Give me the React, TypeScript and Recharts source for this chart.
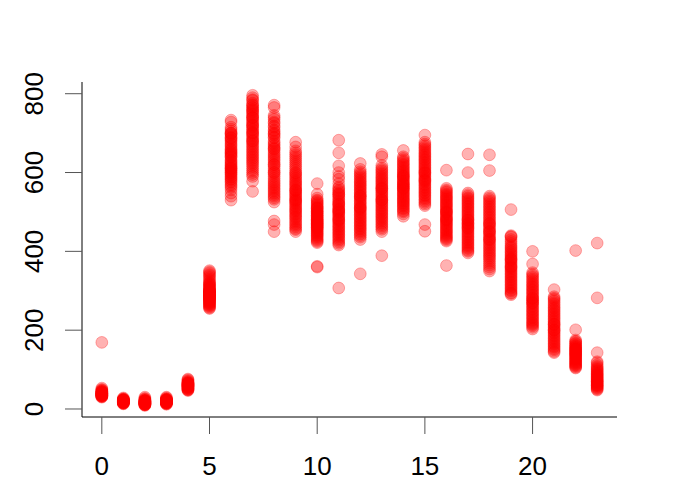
import { ScatterChart, Scatter, XAxis, YAxis } from 'recharts';

// counts per hour of day (0..23)
const h00 = [169, 53, 50, 48, 47, 45, 44, 43, 42, 41, 41, 40, 39, 39, 38, 38, 37, 36, 36, 35, 35, 34, 34, 33, 33, 32, 31, 30, 44, 39];
const h01 = [28, 26, 25, 24, 23, 22, 22, 21, 21, 20, 20, 19, 19, 18, 18, 17, 17, 16, 16, 15, 15, 14, 23, 24, 20, 19, 21, 18, 17, 13];
const h02 = [30, 27, 25, 24, 22, 21, 20, 19, 18, 18, 17, 16, 16, 15, 15, 14, 14, 13, 12, 12, 11, 11, 10, 20, 17, 19, 13, 15, 22, 9];
const h03 = [30, 28, 26, 25, 24, 23, 22, 21, 21, 20, 20, 19, 19, 18, 18, 17, 17, 16, 16, 15, 15, 14, 13, 22, 24, 20, 18, 19, 16, 12];
const h04 = [76, 74, 72, 70, 68, 67, 66, 65, 64, 63, 62, 61, 60, 60, 59, 58, 57, 56, 55, 54, 53, 52, 51, 50, 49, 48, 47, 65, 58, 62];
const h05 = [351, 345, 338, 330, 322, 318, 314, 310, 306, 303, 300, 298, 296, 294, 292, 290, 288, 286, 284, 282, 280, 278, 276, 273, 270, 267, 263, 259, 255, 300,
  348, 341, 334, 326, 320, 316, 312, 308, 304, 301, 299, 297, 295, 293, 291, 289, 287, 285, 283, 281, 279, 277, 274, 271, 268, 265, 261, 257];
const h06 = [733, 728, 715, 705, 698, 690, 682, 675, 668, 660, 652, 645, 638, 630, 624, 618, 612, 606, 600, 594, 588, 582, 575, 566, 556, 548, 540, 530, 700, 620, 610, 650,
  700, 695, 688, 680, 672, 665, 658, 648, 640, 632, 626, 615, 604, 596, 590, 584, 578, 570, 562, 610, 642, 686, 710, 655, 600];
const h07 = [796, 790, 783, 776, 770, 764, 758, 752, 745, 738, 730, 722, 715, 708, 700, 692, 684, 676, 668, 660, 652, 644, 636, 628, 620, 610, 600, 590, 578, 552, 760, 720, 680,
  785, 772, 766, 755, 748, 740, 733, 726, 718, 710, 703, 696, 688, 680, 672, 664, 656, 648, 640, 632, 624, 615, 605, 595, 740, 700];
const h08 = [771, 765, 745, 735, 725, 715, 705, 695, 688, 680, 672, 664, 655, 646, 638, 630, 620, 610, 600, 590, 580, 572, 564, 556, 548, 540, 532, 525, 477, 468, 450, 700, 560,
  740, 728, 718, 708, 698, 690, 676, 668, 660, 650, 642, 634, 625, 615, 605, 595, 585, 576, 568, 552, 544, 536, 660, 620, 600];
const h09 = [677, 665, 655, 645, 635, 625, 615, 605, 598, 590, 582, 575, 568, 560, 553, 546, 540, 533, 526, 520, 513, 506, 500, 493, 486, 478, 470, 462, 455, 450, 555, 530,
  650, 640, 630, 620, 610, 600, 594, 586, 578, 571, 564, 556, 549, 543, 536, 529, 523, 516, 509, 503, 496, 489, 482, 474, 466, 458];
const h10 = [572, 545, 535, 528, 522, 516, 510, 505, 500, 495, 490, 485, 480, 476, 472, 468, 464, 460, 455, 450, 445, 440, 434, 428, 422, 362, 360, 500, 480, 470,
  530, 525, 519, 513, 508, 502, 497, 492, 487, 482, 478, 474, 470, 466, 462, 457, 452, 447, 442, 437, 431, 425, 490, 510, 460];
const h11 = [682, 650, 617, 600, 590, 583, 572, 563, 555, 548, 540, 532, 525, 518, 510, 503, 496, 489, 482, 475, 468, 461, 454, 447, 440, 432, 424, 416, 307, 500, 520,
  560, 552, 544, 536, 528, 521, 514, 507, 499, 492, 485, 478, 471, 464, 457, 450, 443, 436, 428, 420, 545, 505, 480];
const h12 = [623, 608, 598, 590, 582, 575, 568, 561, 554, 547, 540, 533, 526, 519, 512, 505, 498, 491, 484, 477, 470, 463, 456, 448, 440, 430, 343, 540, 510,
  602, 594, 586, 578, 571, 564, 557, 550, 543, 536, 529, 522, 515, 508, 501, 494, 487, 480, 473, 466, 459, 452, 444, 436];
const h13 = [646, 640, 618, 608, 600, 592, 585, 578, 571, 564, 557, 550, 543, 536, 529, 522, 515, 508, 501, 494, 487, 480, 472, 464, 456, 450, 389, 560, 530,
  612, 604, 596, 588, 581, 574, 567, 560, 553, 546, 539, 532, 525, 518, 511, 504, 497, 490, 483, 476, 468, 460];
const h14 = [656, 640, 632, 625, 618, 611, 604, 598, 592, 586, 580, 574, 568, 562, 556, 550, 544, 538, 532, 526, 520, 514, 507, 500, 489, 590, 570, 560,
  636, 628, 621, 614, 607, 601, 595, 589, 583, 577, 571, 565, 559, 553, 547, 541, 535, 529, 523, 517, 510, 503, 495];
const h15 = [695, 677, 668, 660, 652, 645, 638, 631, 624, 617, 610, 603, 596, 589, 582, 575, 568, 561, 554, 547, 540, 532, 524, 516, 468, 451, 600, 580,
  672, 664, 656, 648, 641, 634, 627, 620, 613, 606, 599, 592, 585, 578, 571, 564, 557, 550, 543, 536, 528, 520];
const h16 = [606, 560, 553, 546, 540, 534, 528, 522, 516, 510, 504, 498, 492, 486, 480, 474, 468, 462, 456, 450, 444, 438, 432, 426, 364, 500, 480,
  556, 550, 543, 537, 531, 525, 519, 513, 507, 501, 495, 489, 483, 477, 471, 465, 459, 453, 447, 441, 435, 429];
const h17 = [647, 600, 548, 540, 533, 526, 519, 512, 505, 498, 491, 484, 477, 470, 463, 456, 449, 442, 435, 428, 421, 414, 407, 400, 396, 480, 460, 470,
  544, 536, 529, 522, 515, 508, 501, 494, 487, 480, 473, 466, 459, 452, 445, 438, 431, 424, 417, 410, 403];
const h18 = [645, 605, 540, 532, 524, 516, 508, 500, 492, 484, 476, 468, 460, 452, 444, 436, 428, 420, 412, 404, 396, 388, 380, 370, 360, 350, 470, 450, 430,
  536, 528, 520, 512, 504, 496, 488, 480, 472, 464, 456, 448, 440, 432, 424, 416, 408, 400, 392, 384, 375, 365, 355];
const h19 = [506, 440, 436, 425, 415, 408, 400, 393, 386, 379, 372, 365, 358, 351, 344, 337, 330, 323, 316, 309, 302, 295, 290, 380, 360,
  438, 430, 420, 411, 404, 397, 390, 383, 376, 369, 362, 355, 348, 341, 334, 327, 320, 313, 306, 299, 293];
const h20 = [400, 368, 346, 338, 330, 322, 315, 308, 301, 294, 287, 280, 273, 266, 259, 252, 245, 238, 231, 224, 217, 211, 203, 280, 270,
  342, 334, 326, 318, 311, 304, 297, 290, 283, 276, 269, 262, 255, 248, 241, 234, 227, 220, 214, 207];
const h21 = [303, 285, 278, 270, 262, 255, 248, 241, 234, 227, 220, 213, 206, 199, 192, 185, 178, 171, 164, 157, 150, 143, 200, 215,
  281, 274, 266, 258, 251, 244, 237, 230, 223, 216, 209, 202, 195, 188, 181, 174, 167, 160, 153, 146];
const h22 = [402, 201, 175, 170, 165, 160, 156, 152, 148, 144, 140, 136, 132, 128, 124, 120, 116, 112, 108, 104, 150, 140,
  172, 167, 162, 158, 154, 150, 146, 142, 138, 134, 130, 126, 122, 118, 114, 110, 106];
const h23 = [421, 282, 143, 120, 112, 105, 100, 95, 90, 86, 82, 78, 74, 70, 66, 62, 58, 54, 50, 48, 70, 60,
  117, 108, 102, 97, 92, 88, 84, 80, 76, 72, 68, 64, 60, 56, 52];

const hourly = [h00, h01, h02, h03, h04, h05, h06, h07, h08, h09, h10, h11, h12, h13, h14, h15, h16, h17, h18, h19, h20, h21, h22, h23];

const xTicks = [0, 5, 10, 15, 20];
const yTicks = [0, 200, 400, 600, 800];

const points = hourly.flatMap((counts, hour) => counts.map((count) => ({ hour, count })));

const FONT = '"Liberation Sans", Arial, Helvetica, sans-serif';

const Dot = (props: any) => (
  <circle
    cx={props.cx}
    cy={props.cy}
    r={5.9}
    fill="#ff0000"
    fillOpacity={0.3}
    stroke="#ff0000"
    strokeOpacity={0.3}
    strokeWidth={1}
  />
);

const YTick = (props: any) => {
  const { y, payload } = props;
  const x = 43;
  return (
    <text
      x={x}
      y={y}
      transform={`rotate(-90 ${x} ${y})`}
      textAnchor="middle"
      fontSize={26}
      fontFamily={FONT}
      fill="#000"
    >
      {payload.value}
    </text>
  );
};

export default function App() {
  return (
    <div style={{ position: 'absolute', left: 0, top: 0, background: '#fff' }}>
      <ScatterChart width={700} height={500} margin={{ top: 82, right: 83, bottom: 0, left: 0 }}>
        <XAxis
          type="number"
          dataKey="hour"
          domain={[-0.92, 23.92]}
          allowDataOverflow
          ticks={xTicks}
          interval={0}
          height={83}
          tickSize={17}
          tickMargin={23}
          axisLine={{ stroke: '#000' }}
          tickLine={{ stroke: '#555' }}
          tick={{ fontSize: 26, fontFamily: FONT, fill: '#000' }}
        />
        <YAxis
          type="number"
          dataKey="count"
          domain={[-20.3, 829.7]}
          allowDataOverflow
          ticks={yTicks}
          interval={0}
          width={82}
          tickSize={17}
          axisLine={{ stroke: '#000' }}
          tickLine={{ stroke: '#555' }}
          tick={<YTick />}
        />
        <Scatter data={points} shape={<Dot />} isAnimationActive={false} />
      </ScatterChart>
    </div>
  );
}
